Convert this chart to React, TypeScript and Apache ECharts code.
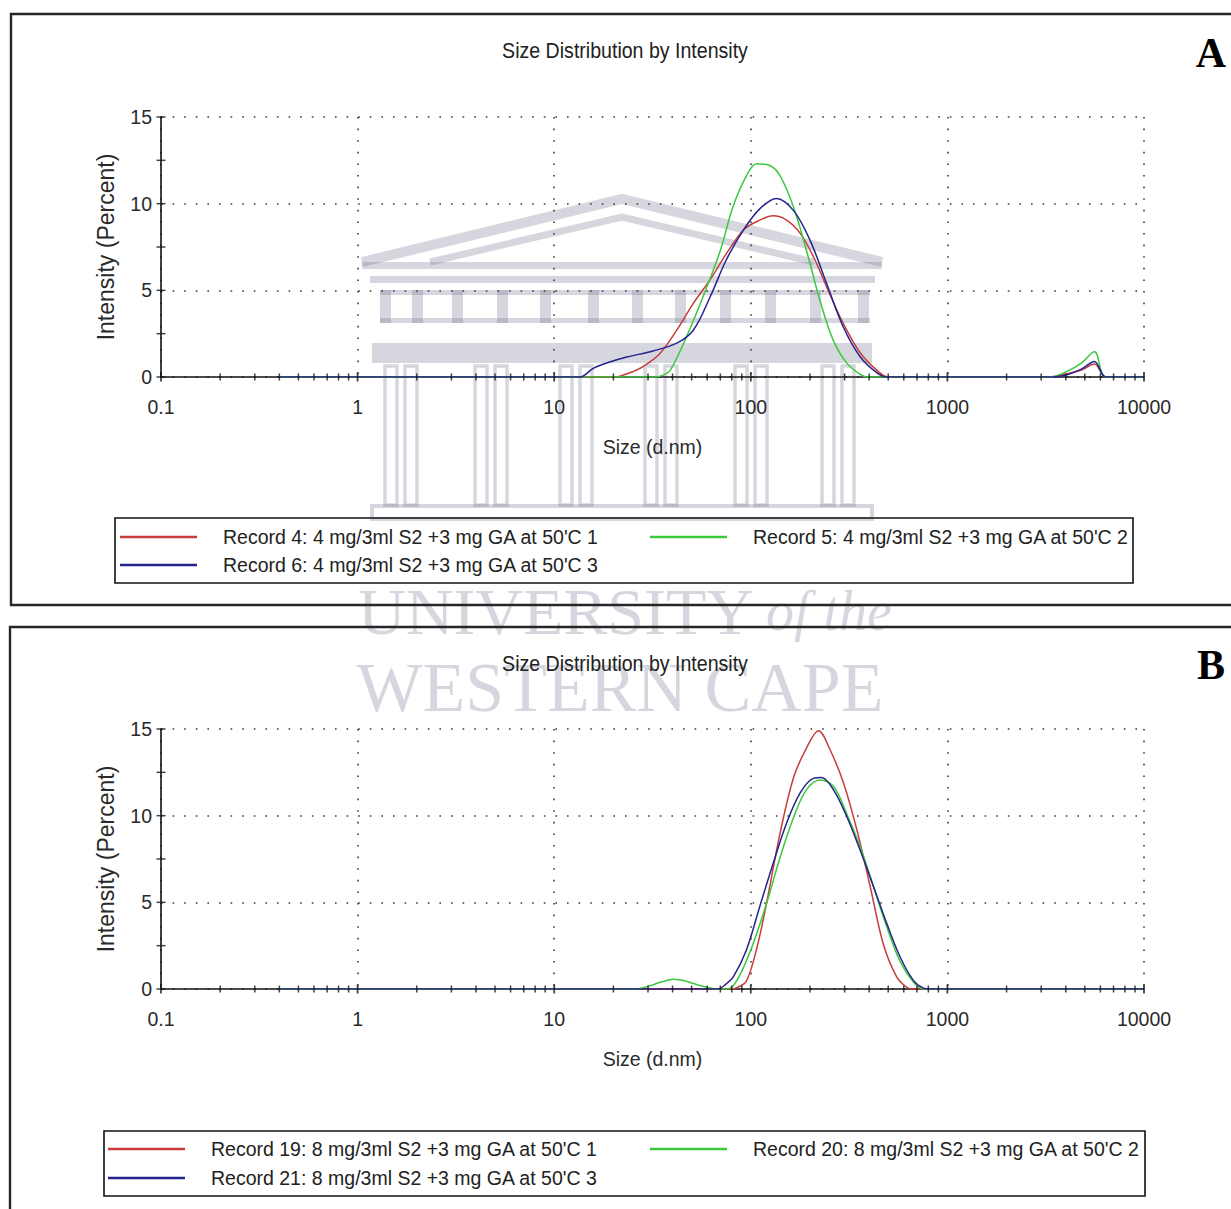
import React, { useEffect, useRef } from "react";
import * as echarts from "echarts";

// ---------- texts ----------
const panelTitle = "Size Distribution by Intensity";
const xAxisName = "Size (d.nm)";
const yAxisName = "Intensity (Percent)";
const panelLetters = ["A", "B"];

// ---------- ticks ----------
const xMajorTicks = [0.1, 1, 10, 100, 1000, 10000];
const xMinorFactors = [2, 3, 4, 5, 6, 7, 8, 9];
const yMajorTicks = [0, 5, 10, 15];
const yMinorTicks = [2.5, 7.5, 12.5];

// ---------- series names ----------
const namesA = [
  "Record 4: 4 mg/3ml S2 +3 mg GA at 50'C 1",
  "Record 5: 4 mg/3ml S2 +3 mg GA at 50'C 2",
  "Record 6: 4 mg/3ml S2 +3 mg GA at 50'C 3",
];
const namesB = [
  "Record 19: 8 mg/3ml S2 +3 mg GA at 50'C 1",
  "Record 20: 8 mg/3ml S2 +3 mg GA at 50'C 2",
  "Record 21: 8 mg/3ml S2 +3 mg GA at 50'C 3",
];

// ---------- data: [size d.nm, intensity %] ----------
const record4 = [
  [0.4, 0], [20, 0], [21.6, 0.05], [25, 0.3], [28.3, 0.6], [34.5, 1.36], [42, 2.7],
  [51, 4.25], [62, 5.6], [75, 7.1], [92, 8.5], [111, 9.05], [130, 9.3], [152, 9.05],
  [178, 8.3], [208, 6.95], [243, 5.2], [295, 3.1], [360, 1.4], [437, 0.4], [500, 0],
  [3300, 0], [4100, 0.2], [4800, 0.4], [5600, 0.75], [6400, 0], [10000, 0],
];
const record5 = [
  [0.4, 0], [33, 0], [36, 0.12], [39, 0.4], [47, 2.3], [57, 4.6], [70, 7.3], [81, 9.8],
  [95, 11.6], [107, 12.3], [125, 12.2], [141, 11.6], [165, 9.8], [192, 7.3], [225, 4.4],
  [263, 2.1], [308, 0.8], [360, 0.15], [390, 0],
  [3300, 0], [4100, 0.35], [4800, 0.8], [5600, 1.45], [6400, 0], [10000, 0],
];
const record6 = [
  [0.4, 0], [13.5, 0], [15.8, 0.5], [19, 0.85], [23.4, 1.15], [31.8, 1.5], [42, 1.95],
  [51, 2.7], [62, 4.6], [75, 6.75], [92, 8.5], [111, 9.7], [135, 10.3], [165, 9.6],
  [200, 7.9], [243, 5.4], [295, 2.9], [360, 1.17], [437, 0.25], [491, 0],
  [3300, 0], [4100, 0.15], [4800, 0.45], [5600, 0.9], [6400, 0], [10000, 0],
];
const record19 = [
  [0.4, 0], [80, 0], [86, 0.1], [95, 0.45], [107, 2.3], [120, 4.9], [141, 9.0],
  [165, 12.2], [192, 13.9], [221, 14.9], [253, 13.8], [296, 11.9], [346, 9.2],
  [405, 5.9], [472, 2.6], [552, 0.7], [621, 0.1], [668, 0], [10000, 0],
];
const record20 = [
  [0.4, 0], [26, 0], [30, 0.15], [35, 0.4], [40.4, 0.56], [47, 0.45], [55, 0.2],
  [64, 0.03], [68, 0], [76, 0], [85, 0.5], [100, 2.25], [120, 4.9], [141, 7.6],
  [165, 9.9], [192, 11.5], [225, 12.06], [263, 11.7], [308, 10.1], [360, 8.2],
  [421, 5.9], [491, 3.6], [574, 1.6], [671, 0.4], [755, 0], [10000, 0],
];
const record21 = [
  [0.4, 0], [68, 0], [75, 0.3], [81.5, 0.7], [95, 2.25], [111, 4.75], [130, 7.25],
  [152, 9.56], [178, 11.3], [208, 12.15], [229, 12.2], [263, 11.5], [308, 9.94],
  [360, 8.0], [421, 5.9], [491, 3.8], [574, 1.86], [671, 0.5], [755, 0.05], [813, 0],
  [10000, 0],
];

const colors = ["#c83c3c", "#3cc83c", "#24248f"];
const FONT = "'Liberation Sans', Arial, sans-serif";
const SERIF = "'Liberation Serif', 'Times New Roman', serif";
const WM = "rgba(105,105,135,0.27)";

function buildOption() {
  const gridTops = [117, 729];
  const grids = gridTops.map((top) => ({ left: 161, width: 983, top, height: 260 }));

  const dotted = { color: "#3a3a3a", width: 1.6, type: [1.6, 10] as any };

  const xAxes = gridTops.map((_, i) => ({
    type: "log",
    logBase: 10,
    gridIndex: i,
    min: 0.1,
    max: 10000,
    splitNumber: 5,
    axisLine: { show: true, onZero: false, lineStyle: { color: "#111", width: 1.6 } },
    axisTick: { show: false },
    axisLabel: {
      fontSize: 19.5,
      fontFamily: FONT,
      color: "#2a2a2a",
      margin: 20,
      formatter: (v: number) => String(Number(v.toPrecision(4))),
    },
    splitLine: { show: true, lineStyle: dotted },
    name: xAxisName,
    nameLocation: "middle",
    nameGap: 60,
    nameTextStyle: { fontSize: 19.5, fontFamily: FONT, color: "#2a2a2a" },
  }));

  const yAxes = gridTops.map((_, i) => ({
    type: "value",
    gridIndex: i,
    min: 0,
    max: 15,
    interval: 5,
    axisLine: { show: true, lineStyle: { color: "#111", width: 1.6 } },
    axisTick: { show: false },
    axisLabel: { fontSize: 19.5, fontFamily: FONT, color: "#2a2a2a", margin: 9 },
    splitLine: { show: true, lineStyle: dotted },
    name: yAxisName,
    nameLocation: "middle",
    nameRotate: 90,
    nameGap: 44,
    nameTextStyle: { fontSize: 23, fontFamily: FONT, color: "#2a2a2a" },
  }));

  const dataSets = [
    [record4, record5, record6],
    [record19, record20, record21],
  ];
  const nameSets = [namesA, namesB];

  const series: any[] = [];
  dataSets.forEach((set, gi) => {
    set.forEach((data, si) => {
      series.push({
        type: "line",
        name: nameSets[gi][si],
        data,
        xAxisIndex: gi,
        yAxisIndex: gi,
        smooth: 0.35,
        symbol: "none",
        lineStyle: { color: colors[si], width: 1.5 },
        itemStyle: { color: colors[si] },
        z: 3,
      });
    });
    const minor = xMajorTicks.slice(0, -1).flatMap((d) => xMinorFactors.map((f) => [d * f, 0]));
    const major = xMajorTicks.map((d) => [d, 0]);
    const yt = yMajorTicks.concat(yMinorTicks).map((v) => [0.1, v]);
    const tickBase = {
      type: "scatter",
      xAxisIndex: gi,
      yAxisIndex: gi,
      symbol: "rect",
      itemStyle: { color: "#151515" },
      silent: true,
      clip: false,
      z: 5,
    };
    series.push({ ...tickBase, data: minor, symbolSize: [1.5, 7] });
    series.push({ ...tickBase, data: major, symbolSize: [1.8, 9] });
    series.push({ ...tickBase, data: yt, symbolSize: [9, 1.5] });
  });

  const legendCommon = {
    orient: "vertical",
    icon: "rect",
    itemWidth: 77,
    itemHeight: 2.5,
    padding: 0,
    selectedMode: false,
    textStyle: { fontSize: 19.5, fontFamily: FONT, color: "#222", lineHeight: 23, padding: [0, 0, 0, 21] },
  };
  const legends = [
    { ...legendCommon, itemGap: 5, data: [namesA[0], namesA[2]], left: 120, top: 525.5 },
    { ...legendCommon, itemGap: 5, data: [namesA[1]], left: 650, top: 525.5 },
    { ...legendCommon, itemGap: 6, data: [namesB[0], namesB[2]], left: 108, top: 1137.5 },
    { ...legendCommon, itemGap: 6, data: [namesB[1]], left: 650, top: 1137.5 },
  ];

  // watermark (faint building + text)
  const wm: any[] = [];
  const r = (x: number, y: number, w: number, h: number) =>
    wm.push({ type: "rect", shape: { x, y, width: w, height: h }, style: { fill: WM }, silent: true });
  const ro = (x: number, y: number, w: number, h: number, lw: number) =>
    wm.push({ type: "rect", shape: { x, y, width: w, height: h }, style: { fill: "none", stroke: WM, lineWidth: lw }, silent: true });
  wm.push({ type: "polyline", shape: { points: [[362, 262], [622, 199], [882, 262]] }, style: { stroke: WM, lineWidth: 10, fill: "none" }, silent: true });
  wm.push({ type: "polyline", shape: { points: [[430, 262], [622, 217], [814, 262]] }, style: { stroke: WM, lineWidth: 7, fill: "none" }, silent: true });
  r(362, 262, 520, 7);
  r(370, 276, 505, 7);
  r(380, 290, 490, 5);
  r(380, 318, 490, 5);
  [380, 412, 452, 497, 540, 588, 632, 675, 720, 765, 810, 858].forEach((x) => r(x, 290, 11, 33));
  r(372, 343, 500, 20);
  [385, 475, 560, 645, 735, 822].forEach((x) => {
    ro(x, 366, 12, 139, 3.5);
    ro(x + 20, 366, 12, 139, 3.5);
  });
  ro(372, 506, 500, 13, 4);
  wm.push({ type: "text", x: 358, y: 611, silent: true, style: { text: "UNIVERSITY", font: `66px ${SERIF}`, fill: WM, verticalAlign: "middle", align: "left" } });
  wm.push({ type: "text", x: 766, y: 611, silent: true, style: { text: "of the", font: `italic 56px ${SERIF}`, fill: WM, verticalAlign: "middle", align: "left" } });
  wm.push({ type: "text", x: 620, y: 687, silent: true, style: { text: "WESTERN CAPE", font: `70px ${SERIF}`, fill: WM, verticalAlign: "middle", align: "center" } });

  const titleText = (y: number) => ({
    type: "text", x: 625, y, scaleX: 0.87, silent: true,
    style: { text: panelTitle, font: `22.5px ${FONT}`, fill: "#222", align: "center", verticalAlign: "middle" },
  });

  const graphic: any[] = [
    ...wm,
    { type: "rect", shape: { x: 11, y: 14, width: 1240, height: 591 }, style: { fill: "none", stroke: "#262626", lineWidth: 2.4 }, silent: true },
    { type: "rect", shape: { x: 10, y: 627, width: 1240, height: 620 }, style: { fill: "none", stroke: "#262626", lineWidth: 2.4 }, silent: true },
    { type: "rect", shape: { x: 115, y: 518, width: 1018, height: 65 }, style: { fill: "none", stroke: "#111", lineWidth: 1.6 }, silent: true },
    { type: "rect", shape: { x: 104, y: 1131, width: 1041, height: 65 }, style: { fill: "none", stroke: "#111", lineWidth: 1.6 }, silent: true },
    titleText(50),
    titleText(663),
    { type: "text", x: 1211, y: 53, silent: true, style: { text: panelLetters[0], font: `bold 42px ${SERIF}`, fill: "#000", align: "center", verticalAlign: "middle" } },
    { type: "text", x: 1211, y: 665, silent: true, style: { text: panelLetters[1], font: `bold 42px ${SERIF}`, fill: "#000", align: "center", verticalAlign: "middle" } },
  ];

  return {
    animation: false,
    backgroundColor: "#ffffff",
    grid: grids,
    xAxis: xAxes,
    yAxis: yAxes,
    legend: legends,
    series,
    graphic,
  };
}

export default function App() {
  const ref = useRef<HTMLDivElement>(null);
  useEffect(() => {
    document.body.style.margin = "0";
    document.body.style.overflow = "hidden";
    const chart = echarts.init(ref.current!, null, { renderer: "svg" });
    chart.setOption(buildOption() as any);
    return () => chart.dispose();
  }, []);
  return <div ref={ref} style={{ width: 1231, height: 1209 }} />;
}
